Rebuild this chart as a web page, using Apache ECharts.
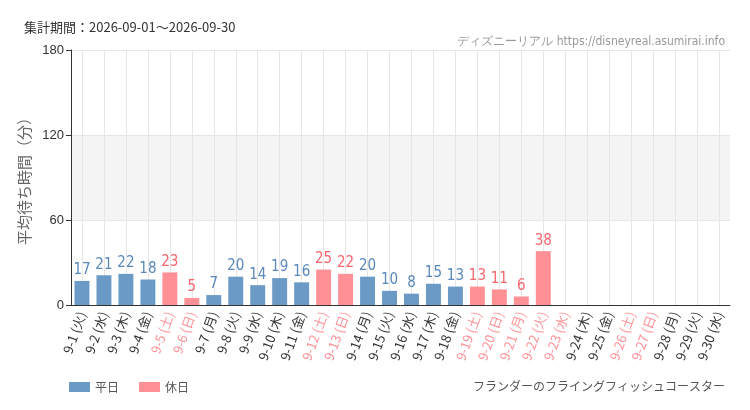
<!DOCTYPE html>
<html>
<head>
<meta charset="utf-8">
<script src="https://cdn.jsdelivr.net/npm/echarts@6/dist/echarts.min.js"></script>
<style>
  html, body { margin: 0; padding: 0; background: #fff; }
  #main { width: 750px; height: 410px; }
</style>
</head>
<body>
<div id="main"></div>
<script>
// 日付ラベル
var days = ['9-1 (火)', '9-2 (水)', '9-3 (木)', '9-4 (金)', '9-5 (土)', '9-6 (日)', '9-7 (月)', '9-8 (火)', '9-9 (水)', '9-10 (木)',
  '9-11 (金)', '9-12 (土)', '9-13 (日)', '9-14 (月)', '9-15 (火)', '9-16 (水)', '9-17 (木)', '9-18 (金)', '9-19 (土)', '9-20 (日)',
  '9-21 (月)', '9-22 (火)', '9-23 (水)', '9-24 (木)', '9-25 (金)', '9-26 (土)', '9-27 (日)', '9-28 (月)', '9-29 (火)', '9-30 (水)'];
// 休日フラグ (1 = 休日)
var holiday = [0, 0, 0, 0, 1, 1, 0, 0, 0, 0,
  0, 1, 1, 0, 0, 0, 0, 0, 1, 1,
  1, 1, 1, 0, 0, 1, 1, 0, 0, 0];
// 平均待ち時間（分）
var waits = [17, 21, 22, 18, 23, 5, 7, 20, 14, 19,
  16, 25, 22, 20, 10, 8, 15, 13, 13, 11,
  6, 38, null, null, null, null, null, null, null, null];
var yTicks = [0, 60, 120, 180];

var blue = '#6b9ac7';
var pink = '#ff9196';

var weekdayData = waits.map(function (v, i) { return holiday[i] ? null : v; });
var holidayData = waits.map(function (v, i) { return holiday[i] ? v : null; });

var chart = echarts.init(document.getElementById('main'));

var numFont = '"Liberation Sans Narrow", "DejaVu Sans Condensed", sans-serif';

var option = {
  animation: false,
  title: [
    {
      text: '集計期間：2026-09-01～2026-09-30',
      left: 19, top: 16,
      textStyle: { fontSize: 13, fontWeight: 'normal', color: '#333', fontFamily: 'Noto Sans CJK JP' }
    },
    {
      text: 'ディズニーリアル https://disneyreal.asumirai.info',
      right: 20, top: 31,
      textStyle: { fontSize: 12, fontWeight: 'normal', color: '#999', fontFamily: numFont }
    },
    {
      text: 'フランダーのフライングフィッシュコースター',
      right: 20, top: 375,
      textStyle: { fontSize: 12, fontWeight: 'normal', color: '#555', fontFamily: 'Noto Sans CJK JP' }
    }
  ],
  legend: {
    left: 64, top: 376,
    itemWidth: 21, itemHeight: 10, itemGap: 20,
    icon: 'rect',
    textStyle: { fontSize: 12, color: '#555', fontFamily: 'Noto Sans CJK JP' },
    data: ['平日', '休日']
  },
  grid: { left: 71, right: 20, top: 50, bottom: 105 },
  xAxis: {
    type: 'category',
    data: days,
    axisLine: { lineStyle: { color: '#333' } },
    axisTick: { alignWithLabel: true, lineStyle: { color: '#333' } },
    splitLine: { show: true, alignWithLabel: true, lineStyle: { color: '#e6e6e6' } },
    axisLabel: {
      interval: 0,
      rotate: 70,
      margin: 7,
      fontSize: 13,
      fontFamily: 'Noto Sans CJK JP',
      color: function (value, index) { return holiday[index] ? pink : '#333'; }
    }
  },
  yAxis: {
    type: 'value',
    min: yTicks[0], max: yTicks[yTicks.length - 1], interval: 60,
    name: '平均待ち時間（分）',
    nameLocation: 'middle',
    nameGap: 24,
    nameTextStyle: { fontSize: 15, color: '#666', fontFamily: 'Noto Sans CJK JP' },
    axisLine: { show: true, lineStyle: { color: '#333' } },
    axisTick: { show: true, lineStyle: { color: '#333' } },
    axisLabel: { fontSize: 13, color: '#333', fontFamily: 'Liberation Sans, sans-serif', margin: 7 },
    splitLine: { show: true, lineStyle: { color: '#e6e6e6' } },
    splitArea: { show: true, areaStyle: { color: ['rgba(255,255,255,0)', '#f4f4f4'] } }
  },
  series: [
    {
      name: '平日',
      type: 'bar',
      stack: 'all',
      barWidth: '68%',
      data: weekdayData,
      itemStyle: { color: blue },
      label: {
        show: true, position: 'top', distance: 3,
        fontSize: 15, color: '#5a88bd', fontFamily: numFont
      }
    },
    {
      name: '休日',
      type: 'bar',
      stack: 'all',
      barWidth: '68%',
      data: holidayData,
      itemStyle: { color: pink },
      label: {
        show: true, position: 'top', distance: 3,
        fontSize: 15, color: '#f7656d', fontFamily: numFont
      }
    }
  ]
};

chart.setOption(option);
</script>
</body>
</html>
